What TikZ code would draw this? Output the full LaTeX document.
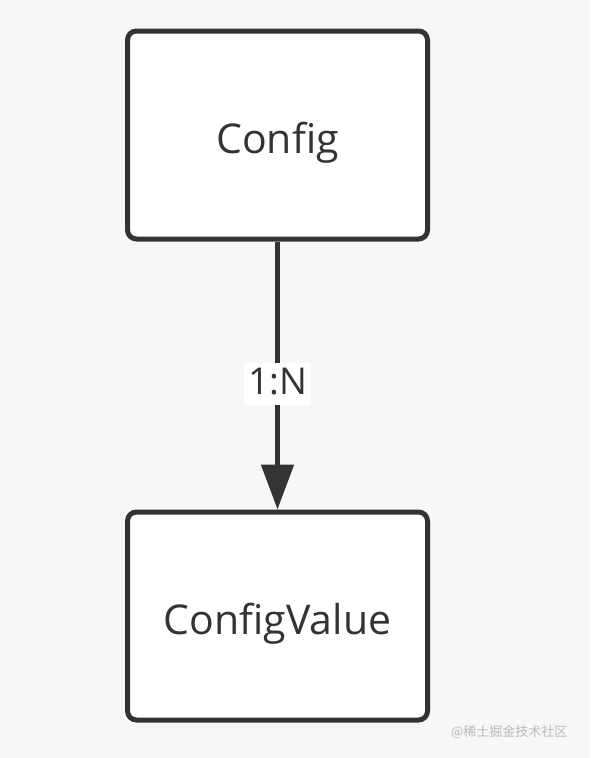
\documentclass[tikz,border=0pt]{standalone}
\usepackage{fontspec}
\setmainfont{Open Sans}
\newfontfamily\cjkfont{Noto Sans CJK SC}
\usetikzlibrary{arrows.meta,positioning}

\definecolor{bgcol}{RGB}{247,247,247}
\definecolor{inkcol}{RGB}{51,51,51}
\definecolor{markcol}{RGB}{185,185,185}

\begin{document}
\begin{tikzpicture}[
    x=1pt, y=-1pt,
    entity/.style={draw=inkcol, line width=5pt, rounded corners=9pt, fill=white,
        minimum width=300pt, minimum height=208pt, text=inkcol,
        text height=36pt, text depth=0pt,
        font=\fontsize{41}{48}\selectfont},
    relation/.style={draw=inkcol, line width=5pt, -{Triangle[length=45pt, width=32pt]}},
    cardinality/.style={fill=white, text=inkcol, inner sep=4pt,
        text height=28pt, text depth=6pt,
        font=\fontsize{37}{44}\selectfont},
    watermark/.style={text=markcol, font=\cjkfont\fontsize{13}{15}\selectfont},
]

% Canvas
\fill[bgcol] (0,0) rectangle (590,758);
\useasboundingbox (0,0) rectangle (590,758);

% Entities
\node[entity] (config) at (277.5,135) {Config};
\node[entity] (configvalue) at (277.5,616) {ConfigValue};

% Relation 1:N
\draw[relation] (config) -- node[cardinality, pos=0.53] (card) {1:N} (configvalue);

% Site mark
\node[watermark, anchor=east] (mark) at (571,732) {@稀土掘金技术社区};

\end{tikzpicture}
\end{document}
